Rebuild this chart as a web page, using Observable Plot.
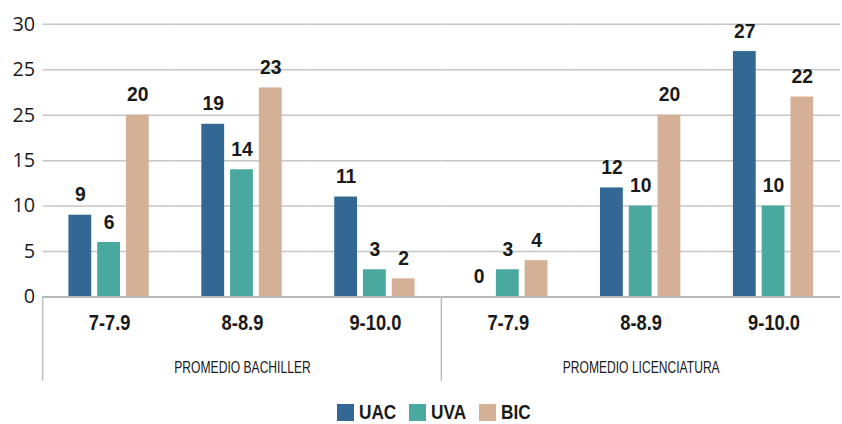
<!DOCTYPE html>
<html>
<head>
<meta charset="utf-8">
<script src="https://cdn.jsdelivr.net/npm/d3@7"></script>
<script src="https://cdn.jsdelivr.net/npm/@observablehq/plot@0.6"></script>
<style>
  body { margin: 0; background: #fff; }
  #wrap { width: 842px; height: 424px; overflow: hidden; position: relative; background: #fff; }
  #chart { width: 842px; height: 384px; overflow: hidden; }
  #legend { width: 842px; height: 38px; box-sizing: border-box; padding-top: 18px; padding-left: 26px;
            display: flex; justify-content: center; align-items: center;
            font-family: 'Liberation Sans', Arial, sans-serif; font-weight: bold; font-size: 21px; color: #1a1a1a; }
  .item { display: flex; align-items: center; margin-right: 13px; height: 20px; }
  .item:last-child { margin-right: 0; }
  .sw { width: 17px; height: 17px; margin-right: 5px; }
  .lab { display: inline-block; transform: scaleX(0.82); transform-origin: 0 50%; line-height: 20px; height: 20px; }
</style>
</head>
<body>
<div id="wrap">
  <div id="chart"></div>
  <div id="legend"></div>
</div>
<script>
const categories = ["PROMEDIO BACHILLER", "PROMEDIO LICENCIATURA"];
const ranges = ["7-7.9", "8-8.9", "9-10.0"];
const series = ["UAC", "UVA", "BIC"];
const colors = ["#336894", "#4aa99f", "#d4b096"];
// values per group: Bachiller 7-7.9, 8-8.9, 9-10.0, Licenciatura 7-7.9, 8-8.9, 9-10.0
const uac = [9, 19, 11, 0, 12, 27];
const uva = [6, 14, 3, 3, 10, 10];
const bic = [20, 23, 2, 4, 20, 22];
const yTicks = [0, 5, 10, 15, 20, 25, 30];
const yTickLabels = ["0", "5", "10", "15", "25", "25", "30"];

const groups = [];
categories.forEach((c, ci) => ranges.forEach(r => groups.push(ci + "|" + r)));
const values = [uac, uva, bic];
const data = [];
groups.forEach((g, gi) => series.forEach((s, si) => data.push({group: g, series: s, value: values[si][gi]})));
const catLabels = categories.map((c, ci) => ({group: groups[ci * 3 + 1], label: c}));

const sans = "'Liberation Sans', Arial, sans-serif";
const W = 849, H = 384;

const chart = Plot.plot({
  width: W, height: H,
  marginTop: 24, marginBottom: 85, marginLeft: 41, marginRight: 0,
  style: {fontFamily: "'Open Sans', sans-serif", fontSize: "20px", color: "#1a1a1a", background: "#fff"},
  fx: {domain: groups, padding: 0, axis: null},
  x: {domain: series, paddingInner: 0.2, paddingOuter: 0.845, axis: null},
  y: {domain: [0, 30], axis: null},
  color: {domain: series, range: colors},
  marks: [
    Plot.gridY(yTicks, {stroke: "#c6c6c6", strokeOpacity: 1, strokeWidth: 1.5}),
    Plot.axisY(yTicks, {tickFormat: d => yTickLabels[yTicks.indexOf(d)], tickSize: 0, tickPadding: 8, label: null, fontSize: 20}),
    Plot.barY(data, {fx: "group", x: "series", y: "value", fill: "series"}),
    Plot.ruleY([0], {stroke: "#b8b8b8", strokeWidth: 2}),
    Plot.text(data, {fx: "group", x: "series", y: "value", text: d => String(d.value), lineAnchor: "bottom", dy: -14,
                     fontWeight: "bold", fontSize: 19.5, fontFamily: sans}),
    Plot.axisFx({anchor: "bottom", tickFormat: g => g.split("|")[1], tickSize: 0, tickPadding: 18, label: null,
                 fontSize: 22, fontWeight: "bold", fontFamily: sans}),
    Plot.text(catLabels, {fx: "group", text: "label", frameAnchor: "bottom", lineAnchor: "bottom", dy: 77,
                          fontSize: 16.5, fontFamily: sans})
  ]
});

document.getElementById("chart").appendChild(chart);

// vertical separators below the axis, positioned from the fx scale
const fx = chart.scale("fx");
const y0 = chart.scale("y").apply(0);
d3.select(chart).append("g")
  .selectAll("line")
  .data([groups[0], groups[3]])
  .join("line")
  .attr("x1", d => fx.apply(d)).attr("x2", d => fx.apply(d))
  .attr("y1", y0).attr("y2", H)
  .attr("stroke", "#bdbdbd").attr("stroke-width", 1.5);

// horizontally condense text (the original uses a condensed typeface)
function squeeze(sel, s) {
  sel.each(function () {
    const b = this.getBBox();
    const cx = b.x + b.width / 2;
    const t = this.getAttribute("transform") || "";
    this.setAttribute("transform", `${t} translate(${cx},0) scale(${s},1) translate(${-cx},0)`);
  });
}
const allText = d3.select(chart).selectAll("text");
squeeze(allText.filter(function () { return ranges.includes(this.textContent); }), 0.84);
squeeze(allText.filter(function () { return categories.includes(this.textContent); }), 0.74);

const legend = d3.select("#legend");
series.forEach((s, i) => {
  const it = legend.append("div").attr("class", "item");
  it.append("div").attr("class", "sw").style("background", colors[i]);
  const lab = it.append("span").attr("class", "lab").text(s);
  const w = lab.node().offsetWidth;
  lab.style("margin-right", (-0.18 * w) + "px");
});
</script>
</body>
</html>
